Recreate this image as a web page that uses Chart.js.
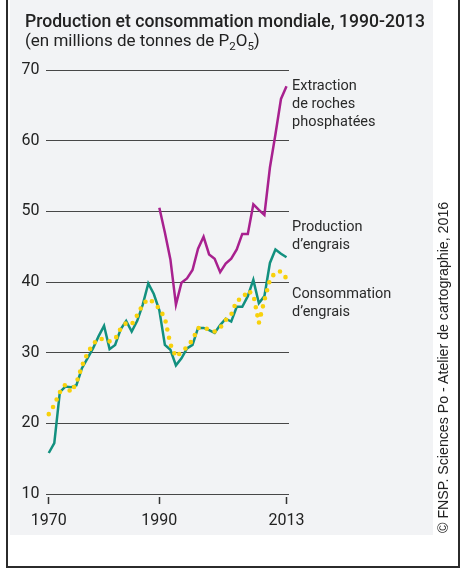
<!DOCTYPE html>
<html>
<head>
<meta charset="utf-8">
<script src="https://cdn.jsdelivr.net/npm/chart.js@4.4.1/dist/chart.umd.min.js"></script>
<style>
  body { margin: 0; width: 468px; height: 574px; position: relative; overflow: hidden; background: #fff; font-family: Roboto, sans-serif; }
  #frame { position: absolute; box-sizing: border-box; left: 6px; top: -4px; width: 454px; height: 572px; border: 2px solid #2b2b2b; }
  #panel { position: absolute; left: 10px; top: 0; width: 423px; height: 535px; background: #f2f3f5; }
  #chart { position: absolute; left: 0; top: 0; }
  .txt { position: absolute; color: #222; white-space: nowrap; }
  #title { left: 25px; top: 12.5px; font-size: 17.6px; line-height: 17.6px; font-weight: 500; }
  #subtitle { left: 25px; top: 31.5px; font-size: 17px; line-height: 17px; }
  #subtitle span { font-size: 11.5px; position: relative; top: 4px; }
  .lab { left: 292px; font-size: 14.5px; line-height: 18px; color: #2a2a2a; }
  #credit { left: 436px; top: 533px; font-family: "Liberation Sans", Arial, sans-serif; font-size: 14.2px; line-height: 14.2px;
            transform-origin: 0 0; transform: rotate(-90deg); color: #222; }
</style>
</head>
<body>
<div id="frame"></div>
<div id="panel"></div>
<canvas id="chart" width="468" height="574"></canvas>
<div class="txt" id="title">Production et consommation mondiale, 1990-2013</div>
<div class="txt" id="subtitle">(en millions de tonnes de P<span>2</span>O<span>5</span>)</div>
<div class="txt lab" style="top:77px">Extraction<br>de roches<br>phosphatées</div>
<div class="txt lab" style="top:218px">Production<br>d’engrais</div>
<div class="txt lab" style="top:285px">Consommation<br>d’engrais</div>
<div class="txt" id="credit">© FNSP. Sciences Po - Atelier de cartographie, 2016</div>
<script>
const years = [1970, 1971, 1972, 1973, 1974, 1975, 1976, 1977, 1978, 1979,
               1980, 1981, 1982, 1983, 1984, 1985, 1986, 1987, 1988, 1989,
               1990, 1991, 1992, 1993, 1994, 1995, 1996, 1997, 1998, 1999,
               2000, 2001, 2002, 2003, 2004, 2005, 2006, 2007, 2008, 2009,
               2010, 2011, 2012, 2013];

// production d'engrais
const production = [15.8, 17.2, 24.4, 25.2, 25.1, 25.4, 27.8, 29.2, 30.6, 32.3,
                    33.8, 30.5, 31.1, 33.3, 34.5, 33.0, 34.5, 36.8, 39.8, 38.3,
                    36.0, 31.1, 30.4, 28.2, 29.2, 30.6, 31.1, 33.5, 33.5, 33.2,
                    32.8, 33.9, 34.8, 34.4, 36.5, 36.5, 38.0, 40.3, 37.0, 38.0,
                    42.7, 44.6, 44.0, 43.5];

// consommation d'engrais
const consumption = [21.3, 22.6, 24.4, 25.5, 24.4, 25.7, 28.1, 29.9, 31.2, 32.0,
                     31.9, 31.6, 31.9, 33.4, 34.2, 34.0, 35.3, 36.8, 37.6, 37.1,
                     36.2, 34.9, 31.2, 29.4, 30.1, 30.8, 31.8, 33.5, 33.5, 33.3,
                     33.0, 33.5, 34.6, 35.4, 37.4, 37.6, 38.8, 38.2, 34.2, 37.4,
                     40.3, 41.4, 41.5, 40.5];

// extraction de roches phosphatées
const extractionYears = [1990, 1991, 1992, 1993, 1994, 1995, 1996, 1997, 1998, 1999,
                         2000, 2001, 2002, 2003, 2004, 2005, 2006, 2007, 2008, 2009,
                         2010, 2011, 2012, 2013];
const extraction = [50.5, 47.0, 43.2, 36.8, 39.9, 40.5, 41.7, 44.7, 46.4, 43.9,
                    43.3, 41.4, 42.6, 43.3, 44.6, 46.8, 46.8, 51.0, 50.2, 49.5,
                    56.2, 60.9, 65.9, 67.7];

const xTicks = [1970, 1990, 2013];
const yTicks = [10, 20, 30, 40, 50, 60, 70];

const pts = (xs, ys) => xs.map((x, i) => ({ x: x, y: ys[i] }));
const tickFont = { family: 'Roboto', size: 16 };

new Chart(document.getElementById('chart'), {
    type: 'line',
    data: {
        datasets: [
            {
                label: 'Consommation d’engrais',
                data: pts(years, consumption),
                borderColor: '#f8d10c',
                borderWidth: 4.6,
                borderDash: [0, 8.3],
                borderCapStyle: 'round',
                order: 0
            },
            {
                label: 'Production d’engrais',
                data: pts(years, production),
                borderColor: '#12907f',
                borderWidth: 2.5,
                borderJoinStyle: 'miter',
                order: 1
            },
            {
                label: 'Extraction de roches phosphatées',
                data: pts(extractionYears, extraction),
                borderColor: '#a8218f',
                borderWidth: 2.5,
                borderJoinStyle: 'miter',
                order: 2
            }
        ]
    },
    options: {
        responsive: false,
        animation: false,
        devicePixelRatio: 1,
        layout: { padding: { top: 70, right: 179, left: 0, bottom: 0 } },
        elements: { point: { radius: 0 }, line: { tension: 0 } },
        plugins: { legend: { display: false }, tooltip: { enabled: false } },
        scales: {
            x: {
                type: 'linear',
                min: 1969.5,
                max: 2013.45,
                afterBuildTicks: s => { s.ticks = xTicks.map(v => ({ value: v })); },
                afterFit: s => { s.height = 80; },
                border: { display: false },
                grid: {
                    drawOnChartArea: false,
                    tickLength: 10,
                    tickBorderDash: [0, 3, 7, 20],
                    tickColor: '#333',
                    tickWidth: 1.5
                },
                ticks: {
                    padding: 7,
                    color: '#222',
                    font: tickFont,
                    autoSkip: false,
                    maxRotation: 0,
                    callback: v => String(v)
                }
            },
            y: {
                min: 10,
                max: 70,
                afterBuildTicks: s => { s.ticks = yTicks.map(v => ({ value: v })); },
                afterFit: s => { s.width = 46; },
                border: { display: false },
                grid: { color: '#474747', lineWidth: 1, drawTicks: false },
                ticks: { padding: 6.5, color: '#222', font: tickFont }
            }
        }
    }
});
</script>
</body>
</html>
